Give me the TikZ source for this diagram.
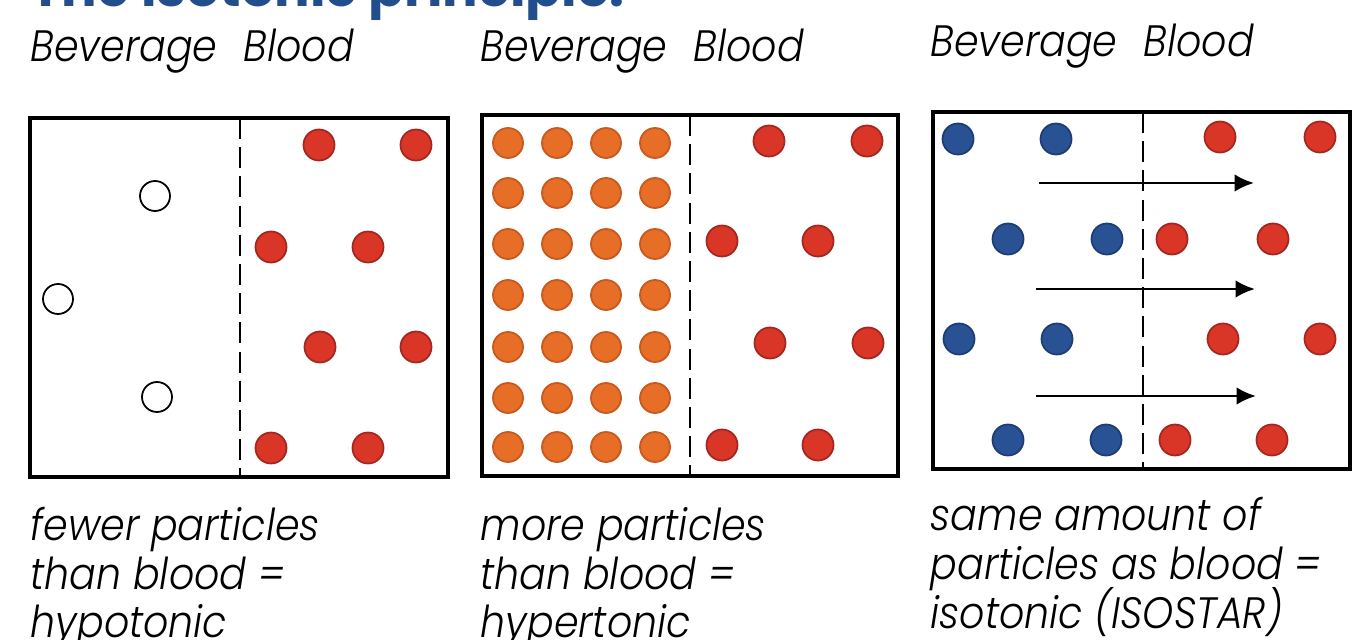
\documentclass[tikz,border=0pt]{standalone}
\usepackage{fontspec}
\setmainfont{Poppins}[UprightFont=* Light, ItalicFont=* Light Italic, BoldFont=* Bold, FakeStretch=0.9]
\newfontfamily\titlefont{Poppins}[UprightFont=* Bold]
\usetikzlibrary{arrows.meta}
\definecolor{dotred}{RGB}{218,54,40}
\definecolor{dotredE}{RGB}{165,38,30}
\definecolor{dotorange}{RGB}{230,110,38}
\definecolor{dotorangeE}{RGB}{200,88,30}
\definecolor{dotblue}{RGB}{40,82,148}
\definecolor{dotblueE}{RGB}{30,60,115}
\definecolor{titleblue}{RGB}{35,78,140}
\tikzset{
  panel/.style={draw=black, line width=1pt},
  divider/.style={draw=black, line width=0.8pt, dash pattern=on 6pt off 2.3pt},
  reddot/.style={circle, fill=dotred, draw=dotredE, line width=0.5pt, minimum size=0.31cm, inner sep=0pt},
  orangedot/.style={circle, fill=dotorange, draw=dotorangeE, line width=0.5pt, minimum size=0.30cm, inner sep=0pt},
  bluedot/.style={circle, fill=dotblue, draw=dotblueE, line width=0.5pt, minimum size=0.31cm, inner sep=0pt},
  opendot/.style={circle, draw=black, line width=0.5pt, minimum size=0.30cm, inner sep=0pt},
  label/.style={anchor=base west, inner sep=0pt, font=\fontsize{12.5}{15}\selectfont\itshape},
  caption/.style={anchor=base west, inner sep=0pt, font=\fontsize{12.5}{15}\selectfont\itshape},
  flow/.style={draw=black, line width=0.8pt, -{Latex[length=5.5pt,width=5pt]}}
}
\begin{document}
\begin{tikzpicture}[x=0.01cm,y=-0.01cm]
\useasboundingbox (0,0) rectangle (1352,640);
% title (cut off at top)
\node[anchor=base west, inner sep=0pt, text=titleblue, font=\fontsize{15}{17}\selectfont\titlefont] (title) at (30,7) {The isotonic principle:};
% headings
\node[label] (h1) at (30,62) {Beverage\hspace{0.6em}Blood};
\node[label] (h2) at (480,62) {Beverage\hspace{0.6em}Blood};
\node[label] (h3) at (930,57) {Beverage\hspace{0.6em}Blood};
% panel 1
\draw[panel] (30,118) rectangle (448,477);
\draw[divider] (240,118) -- (240,477);
\node[opendot] (o1) at (155,196) {};
\node[opendot] (o2) at (58,299) {};
\node[opendot] (o3) at (157,397) {};
\foreach \n/\x/\y in {1/319/145,2/416/145,3/271/247,4/368/247,5/320/347,6/416/347,7/271/448,8/368/448}
  \node[reddot] (pa\n) at (\x,\y) {};
% panel 2
\draw[panel] (482,115) rectangle (898,476);
\draw[divider] (690,115) -- (690,476);
\foreach \x [count=\i] in {508,557,606,655}
  \foreach \y [count=\j] in {143,193,244,295,347,398,447}
    \node[orangedot] (q\i\j) at (\x,\y) {};
\foreach \n/\x/\y in {1/769/141,2/867/141,3/722/241,4/818/241,5/770/343,6/868/343,7/722/445,8/818/445}
  \node[reddot] (pb\n) at (\x,\y) {};
% panel 3
\draw[panel] (933,112) rectangle (1350,469);
\draw[divider] (1143,112) -- (1143,469);
\foreach \n/\x/\y in {1/958/139,2/1056/139,3/1008/239,4/1107/239,5/959/339,6/1057/339,7/1008/440,8/1106/440}
  \node[bluedot] (b\n) at (\x,\y) {};
\foreach \n/\x/\y in {1/1220/137,2/1320/137,3/1172/239,4/1273/239,5/1223/339,6/1320/339,7/1175/440,8/1272/440}
  \node[reddot] (pc\n) at (\x,\y) {};
\coordinate (a1s) at (1039,183); \coordinate (a1e) at (1254,183);
\coordinate (a2s) at (1036,289); \coordinate (a2e) at (1255,289);
\coordinate (a3s) at (1036,396); \coordinate (a3e) at (1256,396);
\draw[flow] (a1s) -- (a1e);
\draw[flow] (a2s) -- (a2e);
\draw[flow] (a3s) -- (a3e);
% captions
\node[caption] (c1a) at (30,540) {fewer particles};
\node[caption] (c1b) at (30,589) {than blood =};
\node[caption] (c1c) at (30,637) {hypotonic};
\node[caption] (c2a) at (480,540) {more particles};
\node[caption] (c2b) at (480,589) {than blood =};
\node[caption] (c2c) at (480,637) {hypertonic};
\node[caption] (c3a) at (930,530) {same amount of};
\node[caption] (c3b) at (930,579) {particles as blood =};
\node[caption] (c3c) at (930,628) {isotonic (ISOSTAR)};
\end{tikzpicture}
\end{document}
